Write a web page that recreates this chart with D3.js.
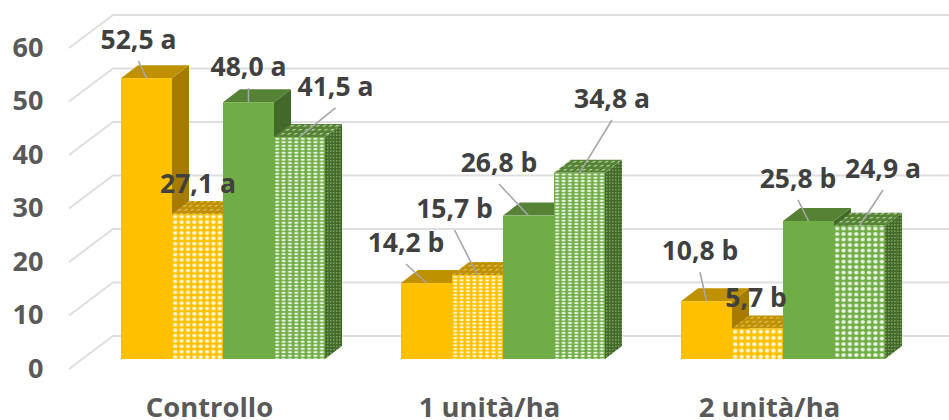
<!DOCTYPE html>
<html><head><meta charset="utf-8">
<script src="https://cdn.jsdelivr.net/npm/d3@7"></script>
<style>
html,body{margin:0;padding:0;background:#fff;overflow:hidden}
text{font-family:"Open Sans",sans-serif;font-weight:700}
</style></head><body><svg id="c" width="949" height="420"></svg>
<script>
// --- data ---
const categories = ["Controllo","1 unità/ha","2 unità/ha"];
const seriesNames = ["s1","s2","s3","s4"];
const s1 = [52.5,14.2,10.8];
const s2 = [27.1,15.7,5.7];
const s3 = [48.0,26.8,25.8];
const s4 = [41.5,34.8,24.9];
const letters1 = ["a","b","b"];
const letters2 = ["a","b","b"];
const letters3 = ["a","b","b"];
const letters4 = ["a","a","a"];
const yTicks = [0,10,20,30,40,50,60];

// --- layout / style (not data) ---
const series = [
 {v:s1,l:letters1,front:"#FFC000",top:"#BF9000",side:"#A67C00",dots:false},
 {v:s2,l:letters2,front:"#FFC000",top:"#BF9000",side:"#A67C00",dots:true,rows:[5.4,3.6,6.3],dot:"#FFF8D8",hatch:"#DDBB55",sideDot:"#C49A20"},
 {v:s3,l:letters3,front:"#70AD47",top:"#548235",side:"#43682B",dots:false},
 {v:s4,l:letters4,front:"#70AD47",top:"#548235",side:"#43682B",dots:true,rows:[3.5,3.3,5.5],dot:"#EDF8E4",hatch:"#A9CB90",sideDot:"#7DA35F"}
];
// label offset from the bar's top-front centre, [dx, dy] of baseline; leader yes/no
const labelOffset = [
 [[-8,-29,1],[-20.5,-31,1],[-6.5,-41,1]],
 [[0.5,-21,0],[-23,-57,1],[-1.5,-21.5,0]],
 [[0,-26,1],[-29.5,-43.6,1],[-10.5,-33,1]],
 [[36,-41,1],[32.5,-64.8,1],[23.5,-47.8,1]]
];
const depthX=17, depthY=13, wallX=113, floorX=69;
const yFront=d3.scaleLinear([0,60],[359,38]);
const yWall=d3.scaleLinear([0,60],[336,15]);
const yTick=d3.scaleLinear([0,60],[368.5,47.5]);
const x0=d3.scaleBand(categories,[83,923]).paddingInner(0.2714).paddingOuter(0.1357);
const x1=d3.scaleBand(seriesNames,[0,x0.bandwidth()]);
const bw=x1.bandwidth();

const svg=d3.select("#c");
const defs=svg.append("defs");
const f=defs.append("filter").attr("id","soft").attr("x","-5%").attr("y","-5%").attr("width","110%").attr("height","110%");
f.append("feGaussianBlur").attr("stdDeviation",0.5);

// wall gridlines and floor diagonals
const grid=svg.append("g").attr("stroke","#DEDEDE").attr("stroke-width",2).attr("fill","none");
grid.selectAll("path").data(yTicks).join("path")
  .attr("d",t=>`M${floorX},${yWall(t)+33}L${wallX},${yWall(t)}L949,${yWall(t)}`);

// axes
const ax=svg.append("g").attr("transform","translate(43.5,0)")
  .call(d3.axisLeft(yTick).tickValues(yTicks).tickSize(0).tickPadding(0).tickFormat(d3.format("d")));
ax.select(".domain").remove();
ax.selectAll("text").attr("fill","#595959").style("font-size","27px").style("font-family",'"Open Sans",sans-serif').style("font-weight",700);
const bx=svg.append("g").attr("transform","translate(-13.5,398)")
  .call(d3.axisBottom(x0).tickSize(0).tickPadding(0));
bx.select(".domain").remove();
bx.selectAll("text").attr("fill","#595959").style("font-size","27.4px").style("font-family",'"Open Sans",sans-serif').style("font-weight",700);

// flatten marks
const marks=[];
series.forEach((s,si)=>categories.forEach((c,ci)=>{
  const x=x0(c)+x1(seriesNames[si]);
  marks.push({s,si,ci,c,value:s.v[ci],letter:s.l[ci],x,y:yFront(s.v[ci]),off:labelOffset[si][ci]});
}));
// patterns
marks.filter(m=>m.s.dots).forEach(m=>{
  const id=`p${m.si}_${m.ci}`, cw=bw/8, ch=m.s.rows[m.ci];
  const p=defs.append("pattern").attr("id",id).attr("patternUnits","userSpaceOnUse")
    .attr("x",m.x).attr("y",m.y).attr("width",cw).attr("height",ch);
  p.append("rect").attr("width",cw).attr("height",ch).attr("fill",m.s.front);
  p.append("ellipse").attr("cx",cw/2).attr("cy",ch/2).attr("rx",cw*0.34).attr("ry",ch*0.33).attr("fill",m.s.dot);
  const h=defs.append("pattern").attr("id","t"+id).attr("patternUnits","userSpaceOnUse")
    .attr("width",cw).attr("height",4).attr("patternTransform","skewX(-50)");
  h.append("rect").attr("width",cw).attr("height",4).attr("fill",m.s.top);
  h.append("rect").attr("x",1).attr("y",1).attr("width",cw*0.45).attr("height",1.6).attr("fill",m.s.hatch);
  const d=defs.append("pattern").attr("id","s"+id).attr("patternUnits","userSpaceOnUse")
    .attr("width",3).attr("height",3.2);
  d.append("rect").attr("width",3).attr("height",3.2).attr("fill",m.s.side);
  d.append("rect").attr("width",1.5).attr("height",1.5).attr("fill",m.s.sideDot);
});

const bars=svg.append("g").attr("filter","url(#soft)");
// drawn left to right so that each bar hides the previous bar's side
const order=marks.slice().sort((a,b)=>a.x-b.x);
const base=yFront(0);
const g=bars.selectAll("g").data(order).join("g");
g.append("path").attr("d",m=>`M${m.x+bw},${m.y}L${m.x+bw+depthX},${m.y-depthY}L${m.x+bw+depthX},${base-depthY}L${m.x+bw},${base}Z`)
  .attr("fill",m=>m.s.dots?`url(#sp${m.si}_${m.ci})`:m.s.side);
g.append("path").attr("d",m=>`M${m.x},${m.y}L${m.x+depthX},${m.y-depthY}L${m.x+bw+depthX},${m.y-depthY}L${m.x+bw},${m.y}Z`)
  .attr("fill",m=>m.s.dots?`url(#tp${m.si}_${m.ci})`:m.s.top);
g.append("rect").attr("x",m=>m.x).attr("y",m=>m.y).attr("width",bw).attr("height",m=>base-m.y)
  .attr("fill",m=>m.s.dots?`url(#p${m.si}_${m.ci})`:m.s.front);

// leaders and labels
const lab=svg.append("g");
lab.selectAll("line").data(marks.filter(m=>m.off[2])).join("line")
  .attr("x1",m=>m.x+bw/2+m.off[0]).attr("y1",m=>m.y+m.off[1]+12)
  .attr("x2",m=>m.x+bw/2).attr("y2",m=>m.y)
  .attr("stroke","#A6A6A6").attr("stroke-width",1.6);
lab.selectAll("text").data(marks).join("text")
  .attr("x",m=>m.x+bw/2+m.off[0]).attr("y",m=>m.y+m.off[1])
  .attr("text-anchor","middle").attr("fill","#404040").style("font-size","26.5px")
  .text(m=>d3.format(".1f")(m.value).replace(".",",")+" "+m.letter);
</script></body></html>
